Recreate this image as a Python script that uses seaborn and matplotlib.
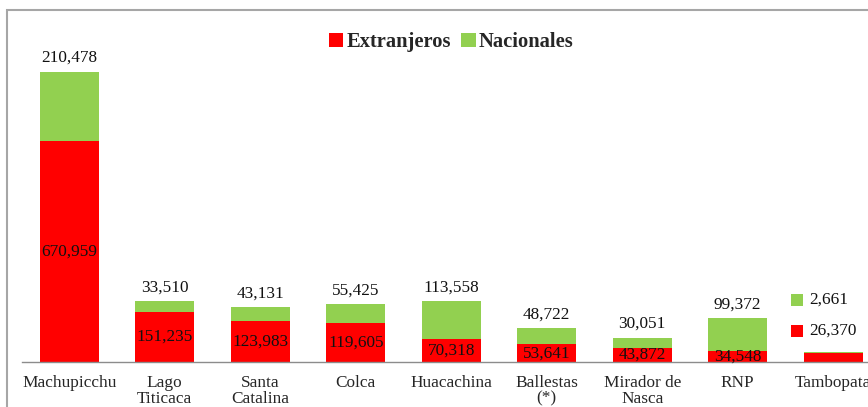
import numpy as np
import pandas as pd
import seaborn as sns
import matplotlib.pyplot as plt
from matplotlib.patches import Rectangle

# data
categories = ["Machupicchu", "Lago\nTiticaca", "Santa\nCatalina", "Colca", "Huacachina",
              "Ballestas\n(*)", "Mirador de\nNasca", "RNP", "Tambopata"]
extranjeros = [670959, 151235, 123983, 119605, 70318, 53641, 43872, 34548, 26370]
nacionales = [210478, 33510, 43131, 55425, 113558, 48722, 30051, 99372, 2661]

red = "#FF0000"
green = "#92D050"

df = pd.DataFrame({"lugar": categories, "ext": extranjeros, "nac": nacionales})
df["total"] = df["ext"] + df["nac"]

sns.set_style("white")
plt.rcParams["font.family"] = ["Liberation Serif", "DejaVu Serif"]

fig = plt.figure(figsize=(8.68, 4.07), dpi=100)
ax = fig.add_axes([21.5 / 868, 45 / 407, 859.5 / 868, 350 / 407])

# stacked bars: totals in green, red on top of it
sns.barplot(data=df, x="lugar", y="total", color=green, saturation=1, width=0.62,
            linewidth=0, ax=ax, label="Nacionales")
sns.barplot(data=df, x="lugar", y="ext", color=red, saturation=1, width=0.62,
            linewidth=0, ax=ax, label="Extranjeros")

ax.set_xlim(-0.5, 8.5)
ax.set_ylim(0, 350 * 3035)
ax.set_xlabel("")
ax.set_ylabel("")
ax.set_yticks([])

# labels: nacionales above bar, extranjeros centred in red part
fmt = lambda v: f"{v:,}"
last = len(categories) - 1
top_labels = [fmt(v) if i != last else "" for i, v in enumerate(nacionales)]
in_labels = [fmt(v) if i != last else "" for i, v in enumerate(extranjeros)]
ax.bar_label(ax.containers[0], labels=top_labels, padding=4, fontsize=12.4, color="#111111")
ax.bar_label(ax.containers[1], labels=in_labels, label_type="center", fontsize=12.4, color="#111111")

# Tambopata values shown at the side with small squares
ax.scatter([last - 0.375], [188000], marker="s", s=68, color=green, linewidths=0)
ax.scatter([last - 0.375], [94000], marker="s", s=68, color=red, linewidths=0)
ax.text(last - 0.25, 188000, fmt(nacionales[last]), fontsize=12.4, va="center", ha="left", color="#111111")
ax.text(last - 0.25, 94000, fmt(extranjeros[last]), fontsize=12.4, va="center", ha="left", color="#111111")

# axis styling
for s in ["top", "right", "left"]:
    ax.spines[s].set_visible(False)
ax.spines["bottom"].set_color("#8C8C8C")
ax.spines["bottom"].set_linewidth(1.0)
ax.set_xticks(np.arange(-0.5, 8.5, 1), minor=True)
ax.tick_params(axis="x", which="major", length=0, pad=9.5, labelsize=12.4)
ax.tick_params(axis="x", which="minor", length=5, width=1, color="#8C8C8C", direction="out")
for t in ax.get_xticklabels():
    t.set_linespacing(0.95)

# legend
h, l = ax.get_legend_handles_labels()
order = [l.index("Extranjeros"), l.index("Nacionales")]
ax.legend([h[i] for i in order], [l[i] for i in order], loc="center",
          bbox_to_anchor=(0.5, 0.914), ncol=2, frameon=False,
          handlelength=0.7, handleheight=0.7, handletextpad=0.15, columnspacing=0.5,
          prop={"family": "Liberation Serif", "weight": "bold", "size": 14.8})

# outer frame of the chart area
fig.patches.append(Rectangle((7 / 868, -0.1), 1.2, (407 - 10.5) / 407 + 0.1,
                             transform=fig.transFigure, fill=False,
                             edgecolor="#A6A6A6", linewidth=1.5))

fig.savefig("out.png", dpi=100)
